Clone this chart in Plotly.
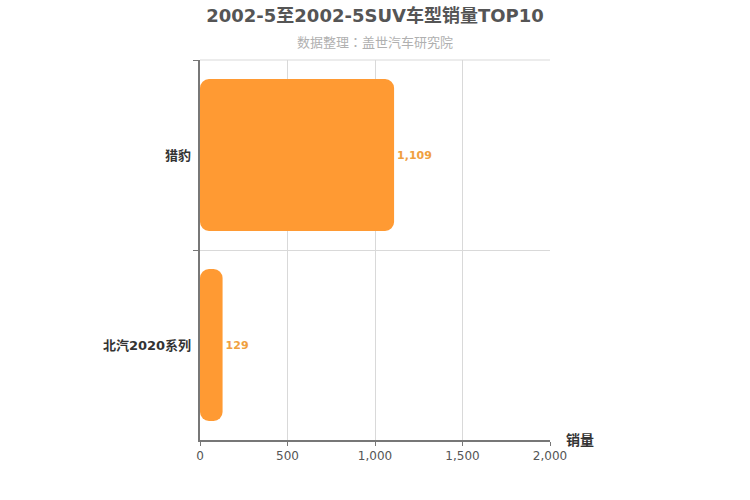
import plotly.graph_objects as go

MODELS = ['猎豹', '北汽2020系列']
SALES = [1109, 129]

BAR_COLOR = '#ff9a33'
TEXT_COLOR = '#f0a040'

fig = go.Figure()

# floating bars (explicit base) get rounded on both ends
fig.add_trace(go.Bar(y=MODELS, x=SALES, base=[0] * len(SALES),
                     orientation='h', marker=dict(color=BAR_COLOR, line=dict(width=0)),
                     text=[f'{v:,}' for v in SALES], textposition='outside',
                     textfont=dict(color=TEXT_COLOR, size=11, family='DejaVu Sans', weight='bold'),
                     cliponaxis=False, showlegend=False, hoverinfo='skip'))

fig.update_layout(
    width=750, height=500,
    margin=dict(l=200, r=200, t=60, b=60),
    plot_bgcolor='white', paper_bgcolor='white',
    bargap=0.2, barcornerradius=9,
    font=dict(family='DejaVu Sans, Noto Sans CJK SC', color='#555'),
    title=dict(text='<b>2002-5至2002-5SUV车型销量TOP10</b>', x=0.5, xanchor='center',
               y=0.968, yanchor='middle', font=dict(size=18, color='#555')),
    xaxis=dict(range=[0, 2000], tickvals=[0, 500, 1000, 1500, 2000],
               tickformat=',', showgrid=True, gridcolor='#d9d9d9', gridwidth=1,
               showline=True, linecolor='#777', linewidth=1.5,
               ticks='outside', ticklen=4, tickcolor='#777',
               tickfont=dict(size=12, color='#555'), zeroline=False, fixedrange=True),
    yaxis=dict(categoryorder='array', categoryarray=MODELS, autorange='reversed',
               tickson='boundaries', showgrid=True, gridcolor='#d9d9d9', gridwidth=1,
               showline=True, linecolor='#777', linewidth=1.5,
               ticks='outside', ticklen=5, tickcolor='#777',
               tickfont=dict(size=13, color='#333', weight='bold'), ticksuffix=' ',
               fixedrange=True),
    shapes=[dict(type='line', xref='paper', yref='paper', x0=0, x1=1, y0=1, y1=1,
                 line=dict(color='#d9d9d9', width=1), layer='below')],
    annotations=[
        dict(text='数据整理：盖世汽车研究院', xref='paper', yref='paper', x=0.5, y=1.0,
             yshift=19, xanchor='center', yanchor='middle', showarrow=False,
             font=dict(size=13, color='#b0b0b0', family='Noto Sans CJK TC')),
        dict(text='<b>销量</b>', xref='paper', yref='paper', x=1.0, y=0.0,
             xshift=14, xanchor='left', yanchor='middle', showarrow=False,
             font=dict(size=14, color='#333')),
    ],
)

fig.write_html("out.html", config={'displayModeBar': False},
               post_script="document.body.style.margin='0';")
